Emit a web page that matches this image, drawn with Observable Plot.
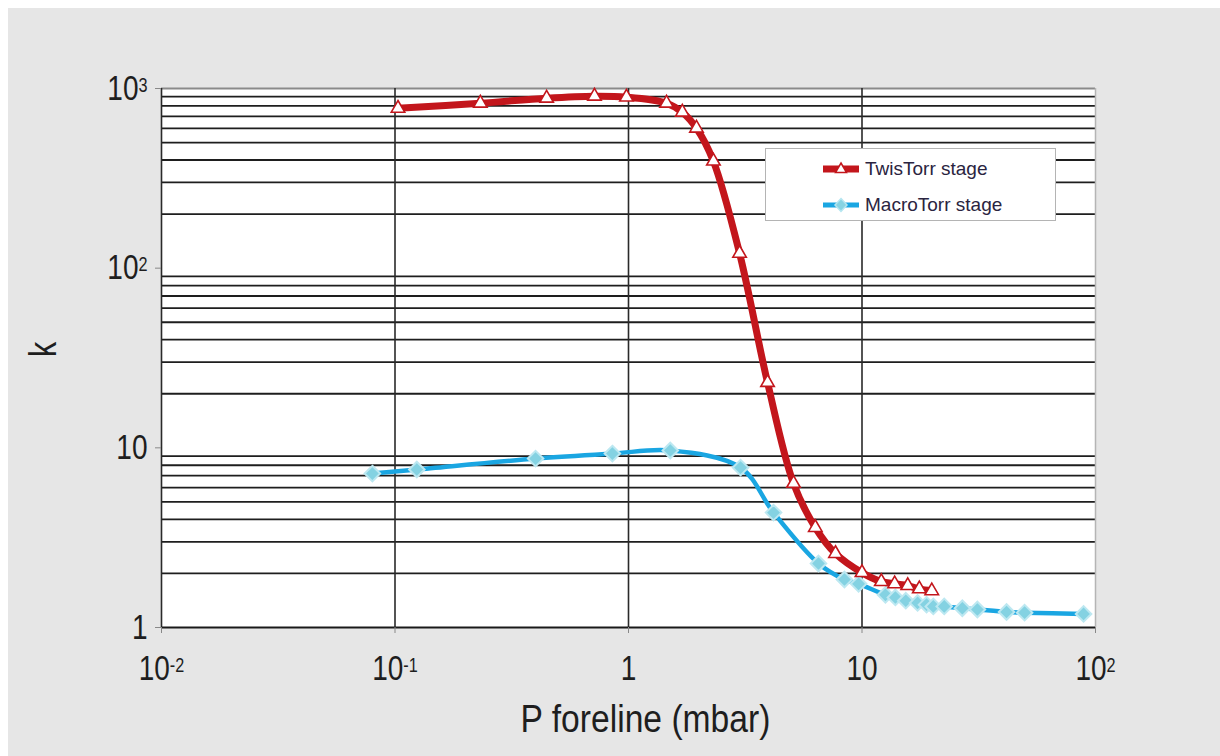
<!DOCTYPE html>
<html>
<head>
<meta charset="utf-8">
<script src="https://cdn.jsdelivr.net/npm/d3@7"></script>
<script src="https://cdn.jsdelivr.net/npm/@observablehq/plot@0.6"></script>
<style>
  html, body { margin: 0; padding: 0; background: #ffffff; }
  #wrap { position: absolute; left: 8px; top: 8px; width: 1212px; height: 748px; background: #e6e6e6; overflow: hidden; }
  #legend { position: absolute; left: 757px; top: 140px; width: 291px; height: 73px; background: #ffffff; border: 1px solid #b4b4b4; box-sizing: border-box;
            font-family: "Liberation Sans", Arial, sans-serif; font-size: 19px; color: #2a2440; }
  .row { position: absolute; left: 57px; height: 24px; display: flex; align-items: center; }
  .row svg { margin-right: 6px; }
</style>
</head>
<body>
<div id="wrap"><div id="chart"></div>
  <div id="legend">
    <div class="row" style="top:8px"><svg width="36" height="20"><line x1="0" y1="10" x2="36" y2="10" stroke="#c3161c" stroke-width="7"/><path d="M18,4 L23.5,13.5 L12.5,13.5 Z" fill="#fff" stroke="#c3161c" stroke-width="1.5"/></svg><span id="lg1"></span></div>
    <div class="row" style="top:44px"><svg width="36" height="20"><line x1="0" y1="10" x2="36" y2="10" stroke="#1aa6e2" stroke-width="5"/><path d="M18,3.5 L24,10 L18,16.5 L12,10 Z" fill="#86d3e3" stroke="#b6e6f0" stroke-width="1.5"/></svg><span id="lg2"></span></div>
  </div>
</div>
<script>
// ---- data ----
const twisP = [0.103, 0.232, 0.446, 0.715, 0.98, 1.455, 1.70, 1.955, 2.31, 2.99, 3.94, 5.09, 6.31, 7.70, 10.0, 12.1, 13.8, 15.7, 17.6, 19.9];
const twisK = [776, 828, 883, 906, 895, 828, 738, 601, 394, 121, 23.1, 6.34, 3.6, 2.58, 2.02, 1.80, 1.75, 1.71, 1.64, 1.60];
const macroP = [0.080, 0.124, 0.40, 0.853, 1.51, 3.02, 4.18, 6.51, 8.41, 9.67, 12.6, 13.9, 15.4, 17.3, 18.9, 20.2, 22.5, 26.9, 31.2, 41.6, 49.7, 88.9];
const macroK = [7.19, 7.57, 8.71, 9.29, 9.66, 7.76, 4.36, 2.27, 1.85, 1.75, 1.52, 1.47, 1.41, 1.37, 1.34, 1.31, 1.31, 1.28, 1.26, 1.22, 1.21, 1.19];
const seriesNames = ["TwisTorr stage", "MacroTorr stage"];
const xTicks = [0.01, 0.1, 1, 10, 100];
const xTickLabels = ["10^-2", "10^-1", "1", "10", "10^2"];
const yTicks = [1, 10, 100, 1000];
const yTickLabels = ["1", "10", "10^2", "10^3"];
const yGrid = [2,3,4,5,6,7,8,9,20,30,40,50,60,70,80,90,200,300,400,500,600,700,800,900];
const xLabel = "P foreline (mbar)";
const yLabel = "k";

const twis = twisP.map((p, i) => ({p, k: twisK[i]}));
const macro = macroP.map((p, i) => ({p, k: macroK[i]}));

document.getElementById("lg1").textContent = seriesNames[0];
document.getElementById("lg2").textContent = seriesNames[1];

const FONT = "'Liberation Sans', Arial, sans-serif";
const RED = "#c3161c", BLUE = "#1aa6e2";

const chart = Plot.plot({
  width: 1212, height: 748,
  marginLeft: 153, marginRight: 125, marginTop: 80, marginBottom: 129,
  x: {type: "log", domain: [0.01, 100]},
  y: {type: "log", domain: [1, 1000]},
  style: {background: "transparent", fontFamily: FONT, color: "#1e1e1e"},
  marks: [
    Plot.frame({fill: "white", stroke: null}),
    Plot.ruleY(yGrid, {stroke: "#1e1e1e", strokeWidth: 1.8}),
    Plot.ruleY([1000], {stroke: "#8a8a8a", strokeWidth: 2}),
    Plot.ruleX(xTicks.slice(0, 4), {stroke: "#2a2a2a", strokeWidth: 1.6}),
    Plot.ruleX([100], {stroke: "#b5b5b5", strokeWidth: 1.5}),
    Plot.ruleY([1], {stroke: "#1a1a1a", strokeWidth: 2}),
    Plot.axisX(xTicks, {tickSize: 6, tickPadding: 22, stroke: "#888", fontSize: 35, label: null,
      tickFormat: d => xTickLabels[xTicks.indexOf(d)]}),
    Plot.axisY(yTicks, {tickSize: 6, tickPadding: 8, stroke: "#888", fontSize: 35, label: null,
      tickFormat: d => yTickLabels[yTicks.indexOf(d)]}),
    Plot.text([xLabel], {frameAnchor: "bottom", dx: 17, dy: 92, fontSize: 38, lineAnchor: "middle", fill: "#1e1e1e", className: "xlab"}),
    Plot.text([yLabel], {frameAnchor: "left", dx: -118, dy: -1, rotate: -90, fontSize: 38, fill: "#1e1e1e", className: "ylab"}),
    Plot.line(macro, {x: "p", y: "k", stroke: BLUE, strokeWidth: 4.5, curve: "catmull-rom"}),
    Plot.dot(macro, {x: "p", y: "k", symbol: "diamond2", r: 7, fill: "#84d2e2", stroke: "#bde8f1", strokeWidth: 2}),
    Plot.line(twis, {x: "p", y: "k", stroke: RED, strokeWidth: 7, curve: "catmull-rom", strokeLinejoin: "round"}),
    Plot.dot(twis, {x: "p", y: "k", symbol: "triangle", r: 5, fill: "white", stroke: RED, strokeWidth: 1.6})
  ]
});

// superscripts in tick labels
chart.querySelectorAll('g[aria-label$="tick label"] text').forEach(t => {
  const s = t.textContent;
  const m = /^10\^(-?\d+)$/.exec(s);
  if (m) {
    t.textContent = "10";
    const sup = document.createElementNS("http://www.w3.org/2000/svg", "tspan");
    sup.setAttribute("baseline-shift", "42%");
    sup.setAttribute("font-size", "58%");
    sup.textContent = m[1];
    t.appendChild(sup);
  }
});
document.getElementById("chart").appendChild(chart);
// condensed lettering: squeeze glyphs horizontally with textLength
function squeeze(sel, s) {
  chart.querySelectorAll(sel).forEach(t => {
    const L = t.getComputedTextLength();
    if (L > 0) {
      t.setAttribute("textLength", (L * s).toFixed(1));
      t.setAttribute("lengthAdjust", "spacingAndGlyphs");
    }
  });
}
squeeze('g[aria-label$="tick label"] text', 0.8);
squeeze(".ylab text", 0.8);
squeeze(".xlab text", 0.885);
</script>
</body>
</html>
